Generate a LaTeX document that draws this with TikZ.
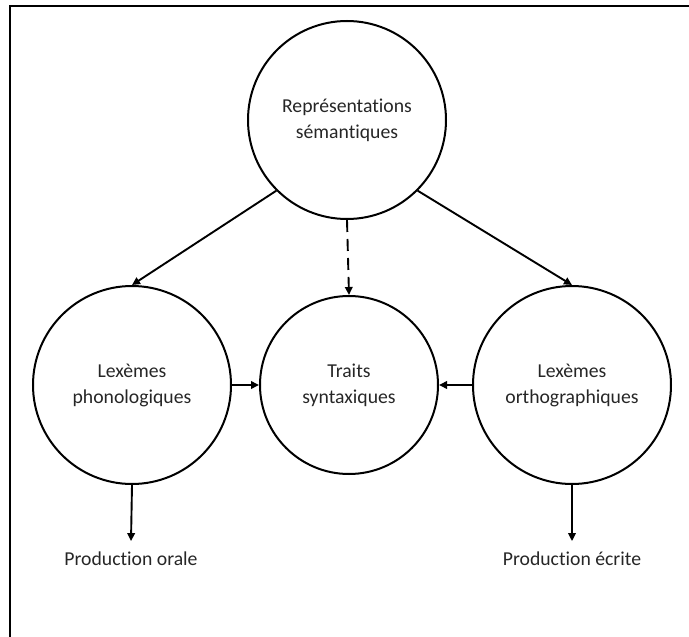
\documentclass[tikz,border=0pt]{standalone}
\usepackage{fontspec}
\setmainfont{Carlito}[Ligatures={NoCommon}]
\usetikzlibrary{arrows.meta}

\begin{document}
\begin{tikzpicture}[
        x=1pt, y=-1pt,
        font=\fontsize{19.7}{26}\selectfont,
        text=black!85,
        level/.style={circle, draw, line width=2pt, minimum size=198pt, inner sep=0pt, align=center},
        middle/.style={level, minimum size=178pt},
        output/.style={inner xsep=0pt, inner ysep=10pt, anchor=base},
        arrow/.style={-{Triangle[length=8pt, width=7.5pt]}, line width=1.9pt}
    ]
        \useasboundingbox (0,0) rectangle (689,637);

        % Rahmen
        \draw[line width=1.8pt] (10,637) -- (10,6) -- (689,6);

        % Ebene oben
        \node[level] (sem) at (347, 120) {Représentations\\sémantiques};

        % Ebene Mitte
        \node[level] (phon) at (132, 385) {Lexèmes\\phonologiques};
        \node[middle] (synt) at (349, 385) {Traits\\syntaxiques};
        \node[level] (orth) at (572, 385) {Lexèmes\\orthographiques};

        % Ausgabe
        \node[output] (oral) at (131, 565) {Production orale};
        \node[output] (ecrit) at (572, 565) {Production écrite};

        % Verbindungen
        \draw[arrow] (sem.south west) -- (phon.north);
        \draw[arrow] (sem.south east) -- (orth.north);
        \draw[arrow, dash pattern=on 12pt off 7pt] (sem.south) -- (synt.north);
        \draw[arrow] (phon.east) -- (synt.west);
        \draw[arrow] (orth.west) -- (synt.east);
        \draw[arrow] (phon.south) -- (oral.north);
        \draw[arrow] (orth.south) -- (ecrit.north);

    \end{tikzpicture}
\end{document}
